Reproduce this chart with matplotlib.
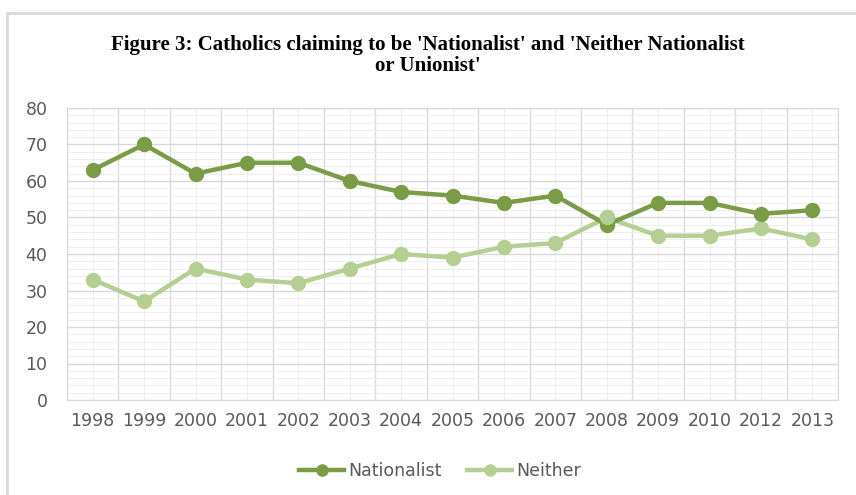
import matplotlib
matplotlib.use('Agg')
import matplotlib.pyplot as plt
from matplotlib.patches import Rectangle
from matplotlib.ticker import MultipleLocator

years = ['1998', '1999', '2000', '2001', '2002', '2003', '2004', '2005',
         '2006', '2007', '2008', '2009', '2010', '2012', '2013']
nationalist = [63, 70, 62, 65, 65, 60, 57, 56, 54, 56, 48, 54, 54, 51, 52]
neither = [33, 27, 36, 33, 32, 36, 40, 39, 42, 43, 50, 45, 45, 47, 44]

c_nat = '#7b9b46'
c_nei = '#b5cf92'
tick_color = '#595959'

W, H = 856, 495
fig = plt.figure(figsize=(W / 100, H / 100), dpi=100)

# outer chart frame (runs off the right and bottom edges)
fig.patches.append(Rectangle((7 / W, 1 - 495 / H - 0.1), 1.2, (495 - 13) / H + 0.1,
                             transform=fig.transFigure, fill=False,
                             edgecolor='#d9d9d9', linewidth=2))

ax = fig.add_axes([67 / W, 1 - 400 / H, (838 - 67) / W, (400 - 108) / H])
x = list(range(len(years)))

ax.plot(x, neither, color=c_nei, marker='o', markersize=10, linewidth=3.2,
        label='Neither', zorder=3)
ax.plot(x, nationalist, color=c_nat, marker='o', markersize=10, linewidth=3.2,
        label='Nationalist', zorder=4)
# light series point at 2008 sits on top
ax.plot([x[10]], [neither[10]], color=c_nei, marker='o', markersize=10,
        linestyle='none', zorder=5)

ax.set_xlim(-0.5, len(years) - 0.5)
ax.set_ylim(0, 80)
ax.set_xticks(x)
ax.set_xticklabels(years)
ax.yaxis.set_major_locator(MultipleLocator(10))
ax.yaxis.set_minor_locator(MultipleLocator(2))
ax.set_xticks([i - 0.5 for i in range(len(years) + 1)], minor=True)

ax.grid(which='major', axis='y', color='#d9d9d9', linewidth=1)
ax.grid(which='minor', axis='y', color='#eeeeee', linewidth=0.8)
ax.grid(which='minor', axis='x', color='#d9d9d9', linewidth=1)
ax.grid(which='major', axis='x', color='#eeeeee', linewidth=0.8)
ax.set_axisbelow(True)

for s in ax.spines.values():
    s.set_color('#d9d9d9')
ax.tick_params(which='both', length=0)
ax.tick_params(axis='both', labelsize=12.5, labelcolor=tick_color)
ax.tick_params(axis='x', pad=9)
ax.tick_params(axis='y', pad=14)

fig.text(0.5, 1 - 45 / H, "Figure 3: Catholics claiming to be 'Nationalist' and 'Neither Nationalist",
         ha='center', va='center', family='Liberation Serif', fontweight='bold',
         fontsize=15)
fig.text(0.5, 1 - 66 / H, "or Unionist'", ha='center', va='center',
         family='Liberation Serif', fontweight='bold', fontsize=15)

h, l = ax.get_legend_handles_labels()
fig.legend(h[::-1], l[::-1], loc='center', bbox_to_anchor=(440 / W, 1 - 471 / H),
           ncol=2, frameon=False, fontsize=12.5, labelcolor=tick_color,
           handlelength=2.6, columnspacing=1.5, handletextpad=0.2,
           markerscale=0.8)

fig.savefig('out.png', dpi=100)
